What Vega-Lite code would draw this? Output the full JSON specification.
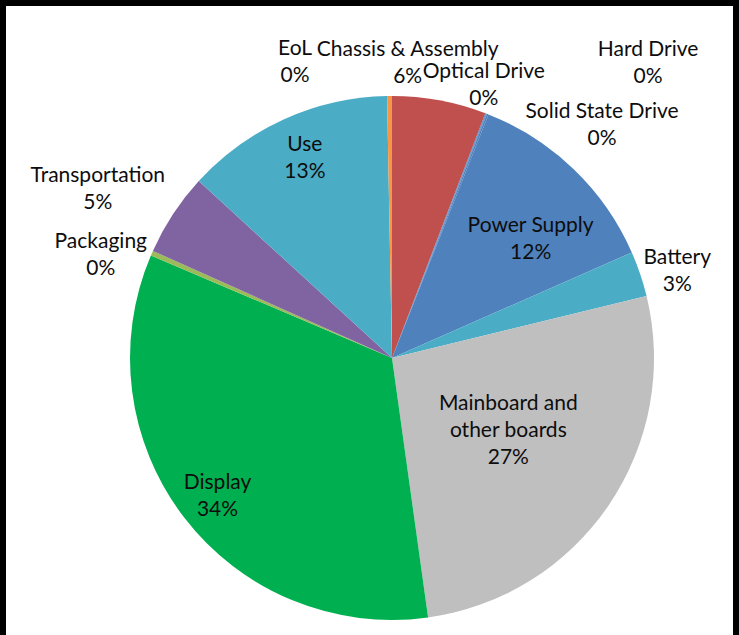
{
  "$schema": "https://vega.github.io/schema/vega-lite/v6.json",
  "width": 739,
  "height": 635,
  "autosize": "none",
  "padding": 0,
  "background": "#ffffff",
  "view": {"stroke": "#000000", "strokeWidth": 12, "strokeDash": [1374, 739, 635]},
  "config": {
    "view": {"stroke": "#000000", "strokeWidth": 12, "strokeDash": [1374, 739, 635]},
    "text": {"font": "Lato", "fontSize": 21, "lineHeight": 27, "fill": "#0d0d0d", "align": "center", "baseline": "middle", "lineBreak": "\n"}
  },
  "data": {
    "values": [
      {"part": "Chassis & Assembly", "value": 5.8, "order": 1, "label": "Chassis & Assembly\n6%"},
      {"part": "Optical Drive", "value": 0.05, "order": 2, "label": "Optical Drive\n0%"},
      {"part": "Hard Drive", "value": 0.05, "order": 3, "label": "Hard Drive\n0%"},
      {"part": "Solid State Drive", "value": 0.1, "order": 4, "label": "Solid State Drive\n0%"},
      {"part": "Power Supply", "value": 12.4, "order": 5, "label": "Power Supply\n12%"},
      {"part": "Battery", "value": 2.8, "order": 6, "label": "Battery\n3%"},
      {"part": "Mainboard and other boards", "value": 26.6, "order": 7, "label": "Mainboard and\nother boards\n27%"},
      {"part": "Display", "value": 33.6, "order": 8, "label": "Display\n34%"},
      {"part": "Packaging", "value": 0.3, "order": 9, "label": "Packaging\n0%"},
      {"part": "Transportation", "value": 5.1, "order": 10, "label": "Transportation\n5%"},
      {"part": "Use", "value": 12.9, "order": 11, "label": "Use\n13%"},
      {"part": "EoL", "value": 0.3, "order": 12, "label": "EoL\n0%"}
    ]
  },
  "encoding": {
    "theta": {"field": "value", "type": "quantitative", "stack": true},
    "order": {"field": "order", "type": "quantitative"},
    "detail": {"field": "part", "type": "nominal"}
  },
  "layer": [
    {
      "mark": {"type": "arc", "radius": 262, "xOffset": 22.5, "yOffset": 40.5},
      "encoding": {
        "color": {
          "field": "part", "type": "nominal", "legend": null,
          "scale": {
            "domain": ["Chassis & Assembly", "Optical Drive", "Hard Drive", "Solid State Drive", "Power Supply", "Battery", "Mainboard and other boards", "Display", "Packaging", "Transportation", "Use", "EoL"],
            "range": ["#C0504D", "#4F81BD", "#4F81BD", "#4F81BD", "#4F81BD", "#4BACC6", "#BFBFBF", "#00B050", "#9BBB59", "#8064A2", "#4BACC6", "#F79646"]
          }
        }
      }
    },
    {"mark": {"type": "text", "radius": 296, "xOffset": 22.5, "yOffset": 40.5, "dx": -38, "dy": -17},
     "encoding": {"text": {"condition": {"test": "datum.part === 'Chassis & Assembly'", "field": "label"}, "value": ""}}},
    {"mark": {"type": "text", "radius": 290, "xOffset": 22.5, "yOffset": 40.5, "dx": -12, "dy": -15},
     "encoding": {"text": {"condition": {"test": "datum.part === 'Optical Drive'", "field": "label"}, "value": ""}}},
    {"mark": {"type": "text", "radius": 391, "xOffset": 22.5, "yOffset": 40.5, "dx": 115, "dy": 57},
     "encoding": {"text": {"condition": {"test": "datum.part === 'Hard Drive'", "field": "label"}, "value": ""}}},
    {"mark": {"type": "text", "radius": 315, "xOffset": 22.5, "yOffset": 40.5, "dx": 95, "dy": 47},
     "encoding": {"text": {"condition": {"test": "datum.part === 'Solid State Drive'", "field": "label"}, "value": ""}}},
    {"mark": {"type": "text", "radius": 184, "xOffset": 22.5, "yOffset": 40.5, "dx": 11, "dy": 1},
     "encoding": {"text": {"condition": {"test": "datum.part === 'Power Supply'", "field": "label"}, "value": ""}}},
    {"mark": {"type": "text", "radius": 298, "xOffset": 22.5, "yOffset": 40.5, "dx": 3, "dy": -4},
     "encoding": {"text": {"condition": {"test": "datum.part === 'Battery'", "field": "label"}, "value": ""}}},
    {"mark": {"type": "text", "radius": 137, "xOffset": 22.5, "yOffset": 40.5, "dx": 3, "dy": -31},
     "encoding": {"text": {"condition": {"test": "datum.part === 'Mainboard and other boards'", "field": "label"}, "value": ""}}},
    {"mark": {"type": "text", "radius": 221, "xOffset": 22.5, "yOffset": 40.5, "dx": 1, "dy": -9},
     "encoding": {"text": {"condition": {"test": "datum.part === 'Display'", "field": "label"}, "value": ""}}},
    {"mark": {"type": "text", "radius": 309, "xOffset": 22.5, "yOffset": 40.5, "dx": -8, "dy": 8},
     "encoding": {"text": {"condition": {"test": "datum.part === 'Packaging'", "field": "label"}, "value": ""}}},
    {"mark": {"type": "text", "radius": 340, "xOffset": 22.5, "yOffset": 40.5, "dx": -10, "dy": 5},
     "encoding": {"text": {"condition": {"test": "datum.part === 'Transportation'", "field": "label"}, "value": ""}}},
    {"mark": {"type": "text", "radius": 219, "xOffset": 22.5, "yOffset": 40.5, "dx": 3, "dy": -13},
     "encoding": {"text": {"condition": {"test": "datum.part === 'Use'", "field": "label"}, "value": ""}}},
    {"mark": {"type": "text", "radius": 312, "xOffset": 22.5, "yOffset": 40.5, "dx": -94, "dy": 3},
     "encoding": {"text": {"condition": {"test": "datum.part === 'EoL'", "field": "label"}, "value": ""}}}
  ]
}
